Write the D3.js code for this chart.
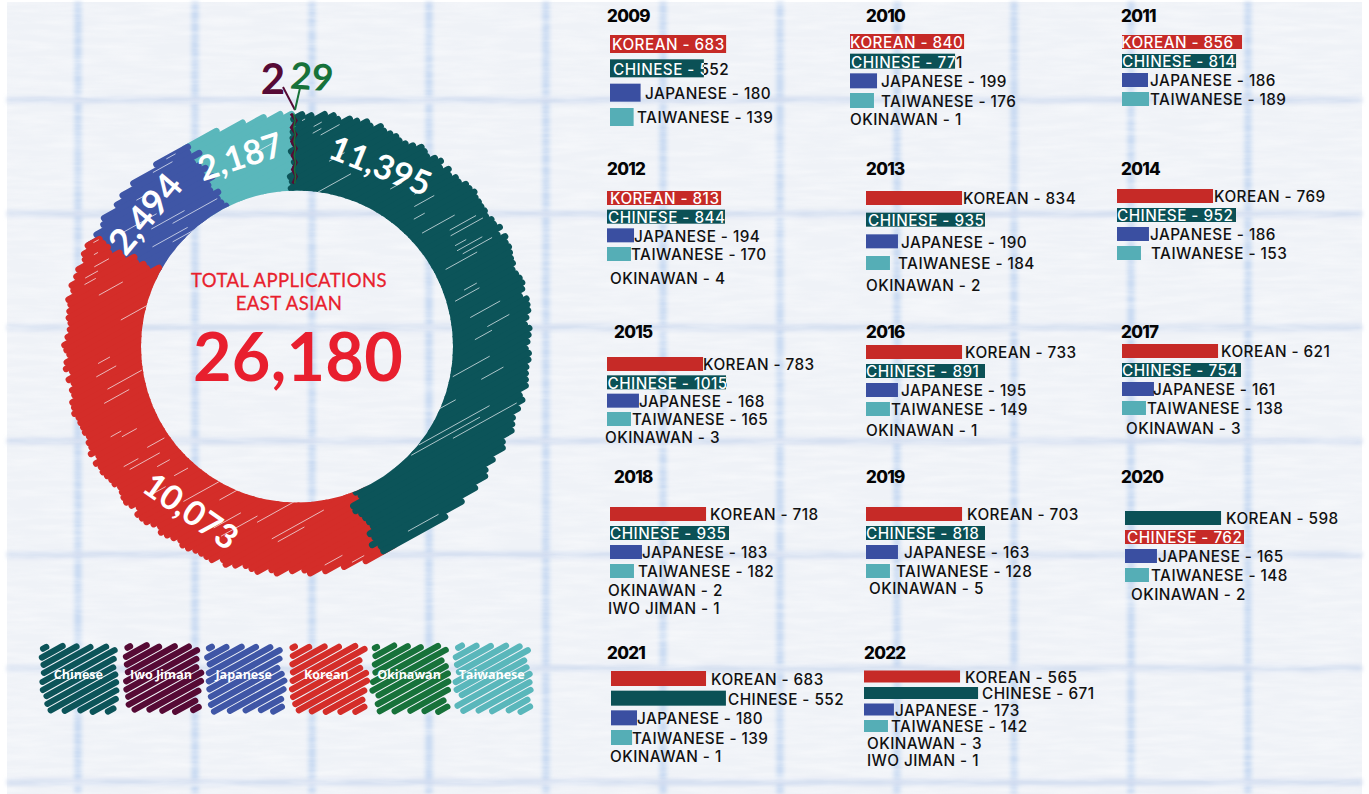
<!DOCTYPE html>
<html>
  <head>
    <meta http-equiv="Content-Type" content="text/html;charset=utf-8"/>
    <script type="text/javascript" src="https://cdn.jsdelivr.net/npm/d3@7"></script>
    <style type="text/css">
      html, body { margin: 0; padding: 0; background: #fff; }
      svg { display: block; }
      text { font-family: Inter, "Noto Sans", sans-serif; }
      .row { font-size: 15.3px; font-weight: 500; letter-spacing: .45px; }
      .year { font-size: 17px; font-weight: 800; letter-spacing: -.7px; fill: #050505; }
      .ring { font-family: Lato, sans-serif; font-weight: 700; fill: #fff; text-anchor: middle; }
      .mid { font-family: Lato, sans-serif; fill: #e81f2e; text-anchor: middle; }
      .key { font-family: "Open Sans", sans-serif; font-size: 12.5px; font-weight: 700; fill: #fff; text-anchor: middle; }
    </style>
  </head>
  <body>
    <svg id="con" width="1369" height="794"></svg>
    <script type="text/javascript">

    // ---- data
    var groups = ["Chinese", "Korean", "Japanese", "Taiwanese", "Iwo Jiman", "Okinawan"];
    var groupTotals = [11395, 10073, 2494, 2187, 2, 29];
    var legendNames = ["Chinese", "Iwo Jiman", "Japanese", "Korean", "Okinawan", "Taiwanese"];

    var years = [2009, 2010, 2011, 2012, 2013, 2014, 2015, 2016, 2017, 2018, 2019, 2020, 2021, 2022];
    var korean    = [683, 840, 856, 813, 834, 769, 783, 733, 621, 718, 703, 598, 683, 565];
    var chinese   = [552, 771, 814, 844, 935, 952, 1015, 891, 754, 935, 818, 762, 552, 671];
    var japanese  = [180, 199, 186, 194, 190, 186, 168, 195, 161, 183, 163, 165, 180, 173];
    var taiwanese = [139, 176, 189, 170, 184, 153, 165, 149, 138, 182, 128, 148, 139, 142];
    var okinawan  = [0, 1, 0, 4, 2, 0, 3, 1, 3, 2, 5, 2, 1, 3];
    var iwoJiman  = [0, 0, 0, 0, 0, 0, 0, 0, 0, 1, 0, 0, 0, 1];

    // the drawn bars do not follow the printed numbers, so their lengths are read separately
    var koreanBar    = [683, 671, 706, 671, 565, 565, 565, 565, 565, 565, 565, 565, 559, 565];
    var chineseBar   = [552, 618, 671, 694, 700, 700, 700, 700, 700, 700, 700, 700, 676, 671];
    var japaneseBar  = [180, 159, 153, 159, 188, 188, 188, 188, 188, 188, 188, 188, 153, 176];
    var taiwaneseBar = [139, 141, 159, 141, 141, 141, 141, 141, 141, 141, 141, 141, 124, 141];

    // ---- layout, one entry per year
    var panels = [
      {x: 610,  tx: 607,  ty: 22,  top: 44,    bot: 117,   h: 18, lab: [612, 613, 645, 637], extra: []},
      {x: 850,  tx: 866,  ty: 22,  top: 41.5,  bot: 100.5, h: 15, lab: [850, 851, 881, 881], extra: [[850, 119]]},
      {x: 1122, tx: 1121, ty: 22,  top: 42,    bot: 99,    h: 14, lab: [1121, 1122, 1150, 1150], extra: []},
      {x: 607,  tx: 607,  ty: 175, top: 198,   bot: 254,   h: 14, lab: [610, 608, 634, 631], extra: [[610, 278]]},
      {x: 866,  tx: 866,  ty: 175, top: 198,   bot: 263,   h: 14, lab: [963, 868, 901, 898], extra: [[866, 285]]},
      {x: 1117, tx: 1121, ty: 175, top: 196,   bot: 253,   h: 14, lab: [1214, 1117, 1150, 1151], extra: []},
      {x: 607,  tx: 614,  ty: 338, top: 364,   bot: 419,   h: 14, lab: [703, 607.5, 639, 632], extra: [[605, 437]]},
      {x: 866,  tx: 866,  ty: 338, top: 352,   bot: 409,   h: 14, lab: [965, 866, 901, 891], extra: [[866, 430]]},
      {x: 1122, tx: 1121, ty: 338, top: 351,   bot: 408,   h: 14, lab: [1221, 1122, 1153, 1147], extra: [[1126, 428]]},
      {x: 610,  tx: 614,  ty: 483, top: 514,   bot: 571,   h: 14, lab: [710, 610, 642, 638], extra: [[608, 590], [608, 608]]},
      {x: 866,  tx: 866,  ty: 483, top: 514,   bot: 571,   h: 14, lab: [967, 866, 904, 896], extra: [[869, 588]]},
      {x: 1125, tx: 1121, ty: 483, top: 518,   bot: 575,   h: 14, lab: [1226, 1127, 1158, 1151], extra: [[1131, 594]], swap: true},
      {x: 611,  tx: 607,  ty: 659, top: 678.5, bot: 737.5, h: 15, lab: [711, 728, 637, 632], extra: [[610, 756]]},
      {x: 864,  tx: 864,  ty: 659, top: 676.5, bot: 726,   h: 12, lab: [965, 982, 895, 891], extra: [[867, 743], [867, 760]]}
    ];

    var ringColor = {"Chinese": "#0c5459", "Korean": "#d42d29", "Japanese": "#3f56a6", "Taiwanese": "#5ab7bb", "Iwo Jiman": "#560a35", "Okinawan": "#17723a"};
    var barColor = {"KOREAN": "#c62a27", "CHINESE": "#0b5156", "JAPANESE": "#3a4fa1", "TAIWANESE": "#55aeb6"};

    var con = d3.select("#con");
    var defs = con.append("defs");

    // ---- paper
    var paper = defs.append("filter").attr("id", "grain").attr("x", 0).attr("y", 0).attr("width", 1).attr("height", 1);
    paper.append("feTurbulence").attr("type", "fractalNoise").attr("baseFrequency", "0.02 0.16").attr("numOctaves", 3).attr("seed", 4);
    paper.append("feColorMatrix").attr("values", "0 0 0 0 1  0 0 0 0 1  0 0 0 0 1  1.6 0 0 0 -0.55");
    defs.append("filter").attr("id", "soft").append("feGaussianBlur").attr("stdDeviation", 2);

    con.append("rect").attr("x", 7).attr("y", 2).attr("width", 1355).attr("height", 792).attr("fill", "#eff2f7");
    var grid = con.append("g").attr("filter", "url(#soft)");
    grid.selectAll(".v").data(d3.range(78, 1362, 117)).enter().append("line")
        .attr("x1", function(d) { return d; }).attr("x2", function(d) { return d; })
        .attr("y1", 2).attr("y2", 794)
        .attr("stroke", "#c8d9f2").attr("stroke-width", 7);
    grid.selectAll(".h").data(d3.range(100, 794, 113.7)).enter().append("line")
        .attr("x1", 7).attr("x2", 1362)
        .attr("y1", function(d) { return d; }).attr("y2", function(d) { return d; })
        .attr("stroke", "#d2ddf0").attr("stroke-width", 6);
    con.append("rect").attr("x", 7).attr("y", 2).attr("width", 1355).attr("height", 792).attr("filter", "url(#grain)").attr("opacity", .45);

    // ---- scribble helpers
    function wob(i, f) {
      var s = Math.sin(i * 12.9898 + f * 78.233) * 43758.5453;
      return s - Math.floor(s);
    }

    // hatch lines running up-right, kept where inside(px, py) holds
    function hatch(cx, cy, reach, step, inside, ext, seed) {
      var ca = Math.cos(Math.PI / 6.2), sa = Math.sin(Math.PI / 6.2);
      var out = [], i = 0;
      d3.range(-reach, reach, step).forEach(function(d) {
        i++;
        var run = null, flush = function() {
          if (run) {
            var a = run[0] - ext * wob(i, seed + 1), b = run[1] + ext * wob(i, seed + 2);
            out.push({
              x1: cx + sa * d + ca * a, y1: cy + ca * d - sa * a,
              x2: cx + sa * d + ca * b, y2: cy + ca * d - sa * b, i: i
            });
            run = null;
          }
        };
        for (var s = -reach; s <= reach; s += 1) {
          var px = cx + sa * d + ca * s, py = cy + ca * d - sa * s;
          if (inside(px, py, i)) {
            if (run) run[1] = s; else run = [s, s];
          } else {
            flush();
          }
        }
        flush();
      });
      return out;
    }

    function drawStrokes(g, strokes, color, width) {
      g.selectAll(null).data(strokes).enter().append("line")
          .attr("x1", function(d) { return d.x1; }).attr("y1", function(d) { return d.y1; })
          .attr("x2", function(d) { return d.x2; }).attr("y2", function(d) { return d.y2; })
          .attr("stroke", color).attr("stroke-width", width).attr("stroke-linecap", "round");
    }

    // ---- donut
    var cx = 297, cy = 343.5, outer = 227, hole = 156, holeY = 346.5;
    var pie = d3.pie().sort(null).value(function(d, i) { return groupTotals[i]; });
    var arcs = pie(groups);

    defs.append("clipPath").attr("id", "hole").append("path")
        .attr("clip-rule", "evenodd")
        .attr("d", "M0,0H1369V794H0Z" +
            "M" + (cx - hole) + "," + holeY + "a" + hole + "," + hole + " 0 1,0 " + (2 * hole) + ",0a" + hole + "," + hole + " 0 1,0 " + (-2 * hole) + ",0Z");

    var ring = con.append("g").attr("clip-path", "url(#hole)");
    [3, 2, 1, 0].forEach(function(k) {
      var a = arcs[k];
      var strokes = hatch(cx, cy, outer + 14, 5.4, function(px, py, i) {
        var dx = px - cx, dy = py - cy, r = Math.sqrt(dx * dx + dy * dy);
        if (r > outer || r < hole - 12) return false;
        var t = Math.atan2(dx, -dy);
        if (t < -0.02) t += 2 * Math.PI;
        var slack = (wob(i, k + 5) * 9 - 2) / r;
        return t >= a.startAngle - (k == 0 ? 0 : slack) && t <= a.endAngle + (k == 3 ? 0.002 : slack);
      }, 8, k);
      var g = ring.append("g");
      drawStrokes(g, strokes, ringColor[groups[k]], 6.6);
      // thin light slits left between strokes
      var slits = strokes.filter(function(d) { return wob(d.i, k + 9) > 0.72; }).map(function(d) {
        var u = 0.15 + wob(d.i, k + 11) * 0.45, v = u + 0.12 + wob(d.i, k + 13) * 0.3;
        return {
          x1: d.x1 + (d.x2 - d.x1) * u, y1: d.y1 + (d.y2 - d.y1) * u,
          x2: d.x1 + (d.x2 - d.x1) * v, y2: d.y1 + (d.y2 - d.y1) * v
        };
      });
      drawStrokes(g, slits, "#f4f6fb", 0.7);
    });

    // the two slivers are too thin to hatch, so they run as thin jagged lines
    var sliver = d3.lineRadial().angle(function(d) { return d[0]; }).radius(function(d) { return d[1]; });
    [4, 5].forEach(function(k) {
      var a = (arcs[k].startAngle + arcs[k].endAngle) / 2;
      var pts = d3.range(hole + 4, outer + 8, 7).map(function(r, i) {
        return [a - 0.008 + (i % 2 ? 1 : -1) * 0.011 * (k == 4 ? 1 : .3), r];
      });
      con.append("path").attr("transform", "translate(" + cx + "," + cy + ")")
          .attr("d", sliver(pts)).attr("fill", "none")
          .attr("stroke", ringColor[groups[k]]).attr("stroke-width", k == 4 ? 3 : 1.5);
    });

    // leaders and the small values over the top of the ring
    var leaders = [
      {name: "Iwo Jiman", x: 273, y: 94, size: 42, rot: 0, from: [283, 87]},
      {name: "Okinawan", x: 311, y: 90, size: 37, rot: 4, from: [300, 88]}
    ];
    leaders.forEach(function(d) {
      var k = groups.indexOf(d.name);
      con.append("line").attr("x1", d.from[0]).attr("y1", d.from[1]).attr("x2", cx - 2).attr("y2", 110)
          .attr("stroke", ringColor[d.name]).attr("stroke-width", 2);
      con.append("text").attr("class", "ring").attr("transform", "translate(" + d.x + "," + d.y + ") rotate(" + d.rot + ")")
          .style("font-size", d.size + "px").style("fill", ringColor[d.name]).text(groupTotals[k]);
    });

    var fmt = d3.format(",");
    var ringLabels = [
      {name: "Chinese", x: 376, y: 177, size: 34, rot: 22},
      {name: "Korean", x: 184, y: 521, size: 34, rot: 35},
      {name: "Japanese", x: 155, y: 222, size: 36, rot: -50},
      {name: "Taiwanese", x: 244, y: 168, size: 34, rot: -18}
    ];
    ringLabels.forEach(function(d) {
      con.append("text").attr("class", "ring")
          .attr("transform", "translate(" + d.x + "," + d.y + ") rotate(" + d.rot + ")")
          .style("font-size", d.size + "px")
          .text(fmt(groupTotals[groups.indexOf(d.name)]));
    });

    con.append("text").attr("class", "mid").attr("x", 289).attr("y", 287).style("font-size", "18.5px").style("letter-spacing", ".45px")
        .style("stroke", "#e81f2e").style("stroke-width", ".3px").text("TOTAL APPLICATIONS");
    con.append("text").attr("class", "mid").attr("x", 289).attr("y", 309.5).style("font-size", "18.5px").style("letter-spacing", ".45px")
        .style("stroke", "#e81f2e").style("stroke-width", ".3px").text("EAST ASIAN");
    con.append("text").attr("class", "mid").attr("x", 298).attr("y", 381).style("font-size", "66.5px").style("font-weight", 700)
        .style("letter-spacing", ".3px").text(fmt(d3.sum(groupTotals)));

    // ---- legend
    var legendX = d3.scaleBand().domain(legendNames).range([37, 533]);
    legendNames.forEach(function(name) {
      var x0 = legendX(name), w = legendX.bandwidth(), y0 = 647, y1 = 710;
      var strokes = hatch(x0 + w / 2, (y0 + y1) / 2, 72, 7.2, function(px, py, i) {
        return px > x0 + 3 + 9 * wob(i, 2) && px < x0 + w - 3 - 7 * wob(i, 3) && py > y0 && py < y1;
      }, 4, legendNames.indexOf(name) + 20);
      drawStrokes(con.append("g"), strokes, ringColor[name], 6.2);
      con.append("text").attr("class", "key").attr("x", x0 + w / 2).attr("y", 679).text(name);
    });

    // ---- yearly bars
    var rows = ["KOREAN", "CHINESE", "JAPANESE", "TAIWANESE"];
    var barLen = d3.scaleLinear().domain([0, 1000]).range([0, 170]);

    panels.forEach(function(p, n) {
      var g = con.append("g");
      var rowY = d3.scalePoint().domain(rows).range([p.top, p.bot]);
      var data = [
        {row: "KOREAN", count: korean[n], bar: koreanBar[n]},
        {row: "CHINESE", count: chinese[n], bar: chineseBar[n]},
        {row: "JAPANESE", count: japanese[n], bar: japaneseBar[n]},
        {row: "TAIWANESE", count: taiwanese[n], bar: taiwaneseBar[n]}
      ];

      g.append("text").attr("class", "year").attr("x", p.tx).attr("y", p.ty).text(years[n]);

      g.selectAll("rect").data(data).enter().append("rect")
          .attr("x", p.x)
          .attr("y", function(d) { return rowY(d.row) - p.h / 2; })
          .attr("width", function(d) { return barLen(d.bar); })
          .attr("height", p.h)
          .attr("fill", function(d) {
            if (p.swap && d.row == "KOREAN") return barColor.CHINESE;
            if (p.swap && d.row == "CHINESE") return barColor.KOREAN;
            return barColor[d.row];
          });

      data.forEach(function(d, i) {
        var lx = p.lab[i], end = p.x + barLen(d.bar), fill = "#111";
        // labels printed over a bar turn white up to where the bar stops
        if (lx < end - 4) {
          var id = "lab" + n + "_" + i;
          var grad = defs.append("linearGradient").attr("id", id).attr("gradientUnits", "userSpaceOnUse")
              .attr("x1", lx).attr("x2", lx + 200).attr("y1", 0).attr("y2", 0);
          var o = (end - lx) / 200;
          grad.append("stop").attr("offset", o).attr("stop-color", "#fff");
          grad.append("stop").attr("offset", o).attr("stop-color", "#111");
          fill = "url(#" + id + ")";
        }
        g.append("text").attr("class", "row").attr("x", lx).attr("y", rowY(d.row)).attr("dy", ".42em")
            .attr("fill", fill).text(d.row + " - " + d.count);
      });

      var extras = [];
      if (okinawan[n]) extras.push("OKINAWAN - " + okinawan[n]);
      if (iwoJiman[n]) extras.push("IWO JIMAN - " + iwoJiman[n]);
      extras.forEach(function(t, i) {
        g.append("text").attr("class", "row").attr("x", p.extra[i][0]).attr("y", p.extra[i][1]).attr("dy", ".42em")
            .attr("fill", "#111").text(t);
      });
    });

    </script>
  </body>
</html>
